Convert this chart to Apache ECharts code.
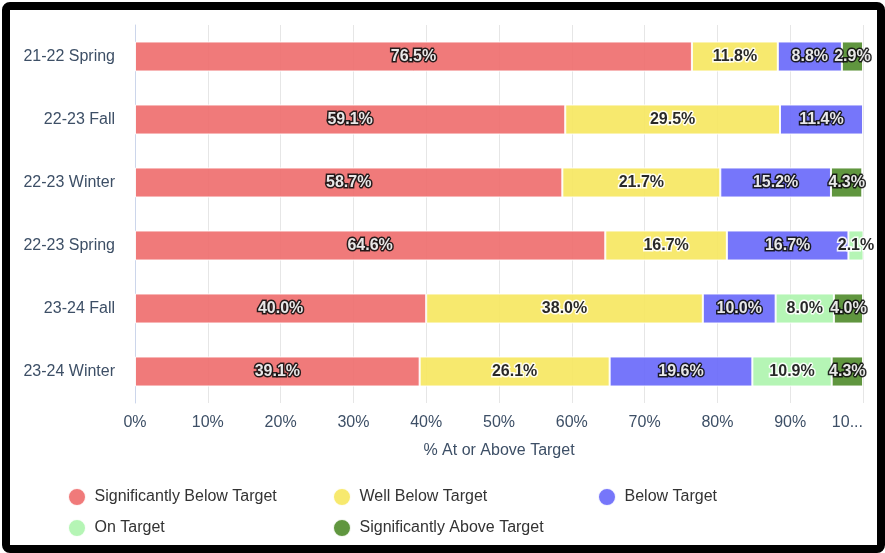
<!DOCTYPE html>
<html>
<head>
<meta charset="utf-8">
<script src="https://cdn.jsdelivr.net/npm/echarts@6/dist/echarts.min.js"></script>
<style>
  html, body { margin: 0; padding: 0; background: #fff; }
  #frame {
    position: absolute;
    left: 2px;
    top: 2px;
    width: 867px;
    height: 535px;
    border: 8px solid #000;
    border-radius: 8px;
    background: #fff;
  }
  #stackbar {
    width: 867px;
    height: 535px;
  }
</style>
</head>
<body>
<div id="frame"><div id="stackbar"></div></div>
<script>
// terms on the y axis, top to bottom
const terms = ["21-22 Spring", "22-23 Fall", "22-23 Winter", "22-23 Spring", "23-24 Fall", "23-24 Winter"];

// band names, in stack order
const bands = ["Significantly Below Target", "Well Below Target", "Below Target", "On Target", "Significantly Above Target"];

// percent of students in each band, one value per term (null = no bar)
const sigBelow = [76.5, 59.1, 58.7, 64.6, 40.0, 39.1];
const wellBelow = [11.8, 29.5, 21.7, 16.7, 38.0, 26.1];
const below = [8.8, 11.4, 15.2, 16.7, 10.0, 19.6];
const onTarget = [null, null, null, 2.1, 8.0, 10.9];
const sigAbove = [2.9, null, 4.3, null, 4.0, 4.3];

const font = "'Liberation Sans', Arial, sans-serif";
const slate = "#3d4f66";

// white text with dark outline on the strong colours, dark text with white outline on the pale ones
function makeSeries(name, data, color, darkBg) {
  return {
    name: name,
    type: "bar",
    stack: "total",
    barWidth: 30,
    data: data,
    itemStyle: {
      color: color,
      opacity: 0.9,
      borderColor: "#ffffff",
      borderWidth: 1
    },
    label: {
      show: true,
      position: "inside",
      fontFamily: font,
      fontSize: 16,
      fontWeight: "bold",
      color: darkBg ? "#ffffff" : "#111111",
      textBorderColor: darkBg ? "#111111" : "#ffffff",
      textBorderWidth: 3,
      formatter: function(p) {
        return p.value == null ? "" : p.value.toFixed(1) + "%";
      }
    },
    emphasis: { disabled: true }
  };
}

// legend laid out in a 3-column grid, one legend per entry
const legendCols = [52, 317, 582];
const legendRows = [472, 503];
const legends = bands.map(function(name, i) {
  return {
    data: [name],
    left: legendCols[i % 3],
    top: legendRows[Math.floor(i / 3)],
    icon: "circle",
    itemWidth: 25,
    itemHeight: 18,
    textStyle: { fontFamily: font, fontSize: 16, color: "#333333" }
  };
});

const chart = echarts.init(document.getElementById("stackbar"));
chart.setOption({
  animation: false,
  textStyle: { fontFamily: font },
  grid: {
    left: 125,
    right: 14,
    top: 15,
    bottom: 142,
    containLabel: false
  },
  legend: legends,
  xAxis: {
    type: "value",
    min: 0,
    max: 100,
    interval: 10,
    name: "% At or Above Target",
    nameLocation: "middle",
    nameGap: 40,
    nameTextStyle: { fontSize: 16, color: slate, fontFamily: font },
    axisLine: { show: false },
    axisTick: { show: false },
    splitLine: { show: true, lineStyle: { color: "#e6e6e6", width: 1 } },
    axisLabel: {
      formatter: "{value}%",
      fontSize: 16,
      color: slate,
      margin: 12,
      width: 34,
      overflow: "truncate",
      ellipsis: "...",
      alignMaxLabel: "right"
    }
  },
  yAxis: {
    type: "category",
    data: terms,
    inverse: true,
    axisTick: { show: false },
    axisLine: { show: true, lineStyle: { color: "#ccd6eb", width: 1 } },
    axisLabel: { fontSize: 16, color: slate, margin: 20 }
  },
  series: [
    makeSeries(bands[0], sigBelow, "#ee6b6b", true),
    makeSeries(bands[1], wellBelow, "#f6e75e", false),
    makeSeries(bands[2], below, "#6767f9", true),
    makeSeries(bands[3], onTarget, "#adf4ad", false),
    makeSeries(bands[4], sigAbove, "#4f8b2a", true)
  ]
});
</script>
</body>
</html>
